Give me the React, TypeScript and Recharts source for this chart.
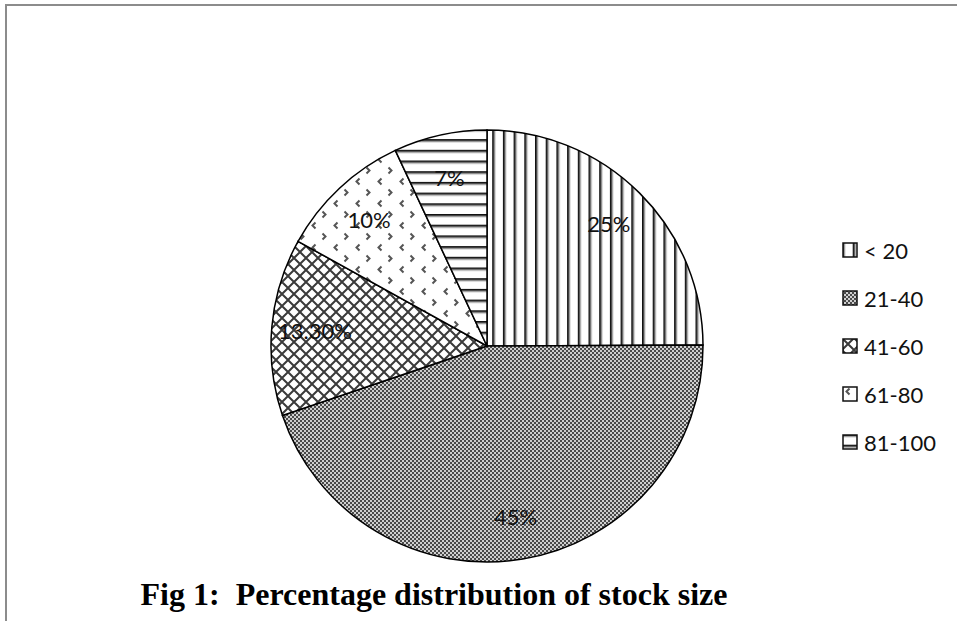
import React from "react";
import { PieChart, Pie, Cell } from "recharts";

const categories = ["< 20", "21-40", "41-60", "61-80", "81-100"];
const shares = [25, 45, 13.3, 10, 7];
const shareLabels = ["25%", "45%", "13.30%", "10%", "7%"];
const patternIds = ["pVert", "pDense", "pCross", "pChevron", "pHoriz"];

const data = categories.map((name, i) => ({ name, value: shares[i], label: shareLabels[i] }));

const RAD = Math.PI / 180;

function PatternDefs() {
  return (
    <defs>
      <pattern id="pVert" patternUnits="userSpaceOnUse" width="10.7" height="10">
        <rect width="10.7" height="10" fill="#fff" />
        <rect x="0" width="1.8" height="10" fill="#111" />
        <rect x="1.8" width="1.4" height="10" fill="#999" />
      </pattern>
      <pattern id="pDense" patternUnits="userSpaceOnUse" width="4" height="4">
        <rect width="4" height="4" fill="#cfcfcf" />
        <rect x="0" y="0" width="2" height="2" fill="#4a4a4a" />
        <rect x="2" y="2" width="2" height="2" fill="#4a4a4a" />
      </pattern>
      <pattern id="pCross" patternUnits="userSpaceOnUse" width="12" height="12">
        <rect width="12" height="12" fill="#fff" />
        <path d="M0 0 L12 12 M12 0 L0 12" stroke="#3a3a3a" strokeWidth="2" />
      </pattern>
      <pattern id="pChevron" patternUnits="userSpaceOnUse" width="22" height="22">
        <rect width="22" height="22" fill="#fff" />
        <path d="M7.5 2.5 L4.5 5.5 L7.5 8.5" stroke="#555" strokeWidth="2" fill="none" />
        <path d="M14.5 13.5 L17.5 16.5 L14.5 19.5" stroke="#555" strokeWidth="2" fill="none" />
      </pattern>
      <pattern id="pHoriz" patternUnits="userSpaceOnUse" width="10" height="10.7">
        <rect width="10" height="10.7" fill="#fff" />
        <rect y="0" width="10" height="1.8" fill="#111" />
        <rect y="1.8" width="10" height="1.4" fill="#999" />
      </pattern>
    </defs>
  );
}

const renderLabel = (props: any) => {
  const { cx, cy, midAngle, outerRadius, index } = props;
  const r = outerRadius * 0.8;
  const x = cx + r * Math.cos(-midAngle * RAD);
  const y = cy + r * Math.sin(-midAngle * RAD);
  return (
    <text
      x={x}
      y={y}
      textAnchor="middle"
      dominantBaseline="central"
      fontFamily="Lato, sans-serif"
      fontSize={22}
      fill="#111"
    >
      {shareLabels[index]}
    </text>
  );
};

function LegendBox() {
  return (
    <div
      style={{
        position: "absolute",
        left: 842,
        top: 226,
        width: 110,
        fontFamily: "Lato, sans-serif",
        fontSize: 22,
        color: "#111",
      }}
    >
      {categories.map((c, i) => (
        <div key={c} style={{ display: "flex", alignItems: "center", height: 48 }}>
          <svg width={16} height={16} style={{ marginRight: 6 }}>
            <rect x={1} y={1} width={14} height={14} fill={`url(#${patternIds[i]})`} stroke="#111" strokeWidth={1.5} />
          </svg>
          <span>{c}</span>
        </div>
      ))}
    </div>
  );
}

export default function App() {
  return (
    <div style={{ position: "absolute", left: 0, top: 0, width: 957, height: 621, background: "#fff" }}>
      <div style={{ position: "absolute", left: 5, top: 4, width: 952, height: 2, background: "#8c8c8c" }} />
      <div style={{ position: "absolute", left: 5, top: 4, width: 2, height: 617, background: "#8c8c8c" }} />
      <PieChart width={957} height={621} margin={{ top: 0, right: 0, bottom: 0, left: 0 }}>
        <PatternDefs />
        <Pie
          data={data}
          dataKey="value"
          nameKey="name"
          cx={487}
          cy={346}
          outerRadius={216}
          startAngle={90}
          endAngle={-270}
          stroke="#000"
          strokeWidth={1.5}
          label={renderLabel}
          labelLine={false}
          isAnimationActive={false}
        >
          {data.map((d, i) => (
            <Cell key={d.name} fill={`url(#${patternIds[i]})`} />
          ))}
        </Pie>
      </PieChart>
      <LegendBox />
      <div
        style={{
          position: "absolute",
          left: 0,
          width: 868,
          top: 576,
          textAlign: "center",
          fontFamily: "'Liberation Serif', 'Times New Roman', serif",
          fontWeight: "bold",
          fontSize: 32,
          lineHeight: "36px",
          whiteSpace: "pre",
          color: "#000",
        }}
      >
        {"Fig 1:  Percentage distribution of stock size"}
      </div>
    </div>
  );
}
